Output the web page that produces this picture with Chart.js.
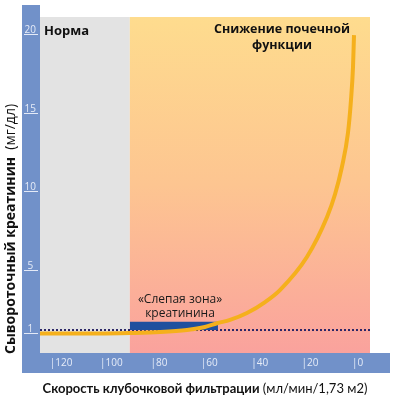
<!DOCTYPE html>
<html>
<head>
<meta charset="utf-8">
<script src="https://cdn.jsdelivr.net/npm/chart.js@4"></script>
<style>
html,body{margin:0;padding:0;background:#fff;}
#wrap{width:400px;height:403px;position:relative;}
</style>
</head>
<body>
<div id="wrap"><canvas id="c" width="400" height="403"></canvas></div>
<script>
// ---- data ----
const gfrValues = [124.65, 101, 89, 77, 66.3, 59.2, 54.4, 49.2, 42.5, 35.3, 29.4, 18.7, 10.7, 7.5, 4.8, 2.4, 1.2, 0.4, 0];
const creatinineValues = [0.78, 0.78, 0.81, 0.87, 1.0, 1.19, 1.43, 1.64, 2.08, 2.78, 3.54, 5.64, 8.18, 9.64, 11.36, 13.52, 15.61, 17.71, 19.74];
const normalGfrLimit = 89;          // edge between "Норма" and "Снижение"
const blindZoneGfr = [89, 54];      // GFR range of the creatinine blind zone
const blindZoneCreat = [1, 1.53];   // creatinine range of the blind zone
const referenceCreat = 1;           // dotted reference level
const xTickValues = [120, 100, 80, 60, 40, 20, 0];
const yTickValues = [1, 5, 10, 15, 20];
const xRange = [-6.35, 124.65];
const yRange = [-0.46, 20.89];

const curveData = gfrValues.map((g, i) => ({x: g, y: creatinineValues[i]}));
const blindData = blindZoneGfr.map(g => ({x: g, y: blindZoneCreat[1]}));
const refData = [{x: xRange[1], y: referenceCreat}, {x: xRange[0], y: referenceCreat}];

const FONT = "'Open Sans', 'Noto Sans', sans-serif";
const FONT2 = "Lato, 'Open Sans', sans-serif";
Chart.defaults.font.family = FONT;

const AXIS_BLUE = '#7191c9';

const decor = {
  id: 'decor',
  beforeDraw(chart) {
    const ctx = chart.ctx;
    const a = chart.chartArea;
    const xs = chart.scales.x;
    ctx.save();
    ctx.fillStyle = '#ffffff';
    ctx.fillRect(0, 0, chart.width, chart.height);
    // axis bands
    ctx.fillStyle = AXIS_BLUE;
    ctx.fillRect(a.left - 18, 5, 18, a.bottom + 20 - 5);
    ctx.fillRect(a.left - 18, a.bottom, a.right - a.left + 18 + 20, 20);
    // regions
    const xb = xs.getPixelForValue(normalGfrLimit);
    ctx.fillStyle = '#e3e3e3';
    ctx.fillRect(a.left, a.top, xb - a.left, a.bottom - a.top);
    const g = ctx.createLinearGradient(0, a.top, 0, a.bottom);
    g.addColorStop(0, '#fedc8e');
    g.addColorStop(0.5, '#fdc591');
    g.addColorStop(1, '#faa29d');
    ctx.fillStyle = g;
    ctx.fillRect(xb, a.top, a.right - xb, a.bottom - a.top);
    ctx.restore();
  },
  afterDraw(chart) {
    const ctx = chart.ctx;
    const ys = chart.scales.y;
    const a = chart.chartArea;
    ctx.save();
    // tick underlines on the y band
    ctx.strokeStyle = '#e4eaf7';
    ctx.lineWidth = 1;
    ys.ticks.forEach(t => {
      const py = Math.round(ys.getPixelForValue(t.value)) + 3.5;
      ctx.beginPath();
      ctx.moveTo(a.left - 16, py);
      ctx.lineTo(a.left - 2, py);
      ctx.stroke();
    });
    // annotations
    ctx.fillStyle = '#111';
    ctx.textBaseline = 'alphabetic';
    ctx.font = "bold 13px " + FONT;
    ctx.textAlign = 'left';
    ctx.fillText('Норма', 44, 35);
    ctx.textAlign = 'center';
    ctx.font = "bold 12.5px " + FONT;
    ctx.fillText('Снижение почечной', 282, 33);
    ctx.fillText('функции', 282, 49);
    ctx.font = "12px " + FONT;
    ctx.fillStyle = '#1a1a1a';
    ctx.fillText('«Слепая зона»', 180, 303);
    ctx.fillText('креатинина', 180, 317);
    // x axis title (mixed weights)
    ctx.textAlign = 'left';
    ctx.fillStyle = '#111';
    const b1 = 'Скорость клубочковой фильтрации';
    const n1 = ' (мл/мин/1,73 м2)';
    ctx.font = "bold 13px " + FONT2;
    const w1 = ctx.measureText(b1).width;
    ctx.font = "13px " + FONT2;
    const w2 = ctx.measureText(n1).width;
    let x0 = 205 - (w1 + w2) / 2;
    ctx.font = "bold 13px " + FONT2;
    ctx.fillText(b1, x0, 393);
    ctx.font = "13px " + FONT2;
    ctx.fillText(n1, x0 + w1, 393);
    // y axis title (mixed weights, rotated)
    const b2 = 'Сывороточный креатинин';
    const n2 = '  (мг/дл)';
    ctx.font = "bold 14px " + FONT;
    const w3 = ctx.measureText(b2).width;
    ctx.font = "14px " + FONT;
    const w4 = ctx.measureText(n2).width;
    ctx.translate(15, 0);
    ctx.rotate(-Math.PI / 2);
    const yc = 229;
    let s = -(yc + (w3 + w4) / 2);
    ctx.font = "bold 14px " + FONT;
    ctx.fillText(b2, s, 0);
    ctx.font = "14px " + FONT;
    ctx.fillText(n2, s + w3, 0);
    ctx.restore();
  }
};

new Chart(document.getElementById('c'), {
  type: 'line',
  data: {
    datasets: [
      {
        label: 'Креатинин',
        data: curveData,
        borderColor: '#f5b01c',
        borderWidth: 4,
        pointRadius: 0,
        cubicInterpolationMode: 'monotone',
        fill: false,
        order: 0
      },
      {
        label: 'Слепая зона',
        data: blindData,
        borderWidth: 0,
        borderColor: 'rgba(0,0,0,0)',
        backgroundColor: '#20509e',
        pointRadius: 0,
        fill: {value: blindZoneCreat[0]},
        order: 1
      },
      {
        label: 'Норма 1',
        data: refData,
        borderColor: '#2a2566',
        borderWidth: 2,
        borderDash: [2, 2],
        pointRadius: 0,
        fill: false,
        order: 2
      }
    ]
  },
  options: {
    responsive: false,
    animation: false,
    events: [],
    layout: {padding: {left: 22, right: 30, top: 17, bottom: 30}},
    plugins: {legend: {display: false}, tooltip: {enabled: false}},
    scales: {
      x: {
        type: 'linear',
        reverse: true,
        min: xRange[0],
        max: xRange[1],
        grid: {display: false, drawTicks: false},
        border: {display: false},
        afterBuildTicks: (sc) => { sc.ticks = xTickValues.map(v => ({value: v})); },
        afterFit: (sc) => { sc.height = 20; },
        ticks: {
          autoSkip: false,
          maxRotation: 0,
          align: 'start',
          padding: 4,
          labelOffset: -2,
          color: '#e6ecf8',
          font: {size: 10},
          callback: (v) => '|' + v
        }
      },
      y: {
        type: 'linear',
        min: yRange[0],
        max: yRange[1],
        grid: {display: false, drawTicks: false},
        border: {display: false},
        afterBuildTicks: (sc) => { sc.ticks = yTickValues.map(v => ({value: v})); },
        afterFit: (sc) => { sc.width = 18; },
        ticks: {
          autoSkip: false,
          crossAlign: 'center',
          padding: 4,
          labelOffset: -1,
          color: '#e6ecf8',
          font: {size: 10},
          callback: (v) => String(v)
        }
      }
    }
  },
  plugins: [decor]
});
</script>
</body>
</html>
